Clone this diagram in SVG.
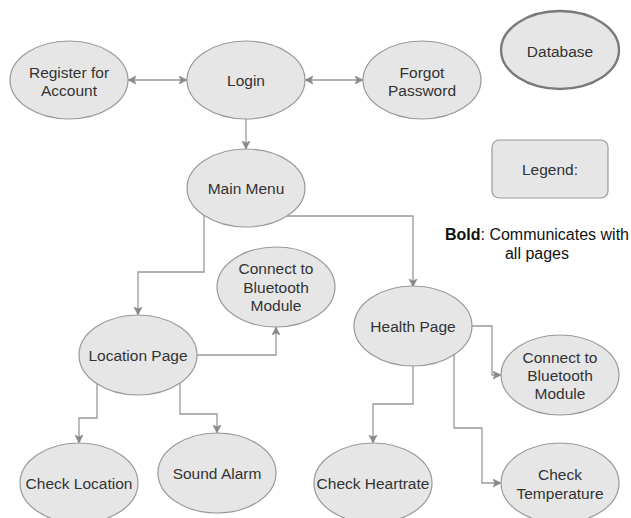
<svg xmlns="http://www.w3.org/2000/svg" width="631" height="518" viewBox="0 0 631 518">
<style>
.n ellipse, .n rect { fill:#e6e6e6; stroke:#999999; stroke-width:1.2; }
.t { font-family:"Liberation Sans", Arial, sans-serif; font-size:15.5px; fill:#333333; text-anchor:middle; dominant-baseline:central; }
.c path { fill:none; stroke:#999999; stroke-width:1.3; }
</style>
<defs>
<marker id="ah" markerUnits="userSpaceOnUse" markerWidth="10" markerHeight="10" refX="8" refY="4.5" orient="auto-start-reverse" viewBox="0 0 10 10">
<path d="M0,0.5 L8,4.5 L0,8.5 L2,4.5 z" fill="#888888" stroke="#888888" stroke-width="0.6"/>
</marker>
</defs>
<rect width="631" height="518" fill="#ffffff"/>
<g class="c" id="connectors">
<path d="M128,80 H187" marker-start="url(#ah)" marker-end="url(#ah)"/>
<path d="M305,80 H363" marker-start="url(#ah)" marker-end="url(#ah)"/>
<path d="M246,119 V149" marker-end="url(#ah)"/>
<path d="M204,215 V272 H138 V315" marker-end="url(#ah)"/>
<path d="M287,216 H413 V287" marker-end="url(#ah)"/>
<path d="M197,355 H276 V327" marker-end="url(#ah)"/>
<path d="M97,384 V418 H79 V443" marker-end="url(#ah)"/>
<path d="M180,383 V414 H217 V433" marker-end="url(#ah)"/>
<path d="M472,326 H492 V375 H501" marker-end="url(#ah)"/>
<path d="M413,366 V404 H373 V443" marker-end="url(#ah)"/>
<path d="M454,354 V428 H482 V483 H501" marker-end="url(#ah)"/>
</g>
<g class="n" id="register"><ellipse cx="69" cy="80" rx="59" ry="39"/><text class="t" x="69" y="72">Register for</text><text class="t" x="69" y="90">Account</text></g>
<g class="n" id="login"><ellipse cx="246" cy="80" rx="59" ry="39"/><text class="t" x="246" y="80">Login</text></g>
<g class="n" id="forgot"><ellipse cx="422" cy="80" rx="59" ry="39"/><text class="t" x="422" y="72">Forgot</text><text class="t" x="422" y="90">Password</text></g>
<g class="n" id="database"><ellipse cx="560" cy="50" rx="59" ry="39" style="stroke:#7a7a7a;stroke-width:2.4"/><text class="t" x="560" y="51">Database</text></g>
<g class="n" id="legend"><rect x="492" y="140" width="116" height="58" rx="7"/><text class="t" x="550" y="169">Legend:</text></g>
<g id="legend-note"><text class="t" x="537" y="234" style="fill:#111111;font-size:16px"><tspan font-weight="bold">Bold</tspan>: Communicates with</text><text class="t" x="537" y="253" style="fill:#111111;font-size:16px">all pages</text></g>
<g class="n" id="mainmenu"><ellipse cx="246" cy="188" rx="59" ry="39"/><text class="t" x="246" y="188">Main Menu</text></g>
<g class="n" id="bt-left"><ellipse cx="276" cy="287" rx="59" ry="40"/><text class="t" x="276" y="268">Connect to</text><text class="t" x="276" y="287">Bluetooth</text><text class="t" x="276" y="305">Module</text></g>
<g class="n" id="location"><ellipse cx="138" cy="355" rx="59" ry="40"/><text class="t" x="138" y="355">Location Page</text></g>
<g class="n" id="health"><ellipse cx="413" cy="326" rx="59" ry="40"/><text class="t" x="413" y="326">Health Page</text></g>
<g class="n" id="bt-right"><ellipse cx="560" cy="375" rx="59" ry="40"/><text class="t" x="560" y="357">Connect to</text><text class="t" x="560" y="375">Bluetooth</text><text class="t" x="560" y="393">Module</text></g>
<g class="n" id="checklocation"><ellipse cx="79" cy="483" rx="59" ry="40"/><text class="t" x="79" y="483">Check Location</text></g>
<g class="n" id="soundalarm"><ellipse cx="217" cy="473" rx="59" ry="40"/><text class="t" x="217" y="473">Sound Alarm</text></g>
<g class="n" id="heartrate"><ellipse cx="373" cy="483" rx="59" ry="40"/><text class="t" x="373" y="483">Check Heartrate</text></g>
<g class="n" id="temperature"><ellipse cx="560" cy="483" rx="59" ry="40"/><text class="t" x="560" y="474">Check</text><text class="t" x="560" y="493">Temperature</text></g>
</svg>
